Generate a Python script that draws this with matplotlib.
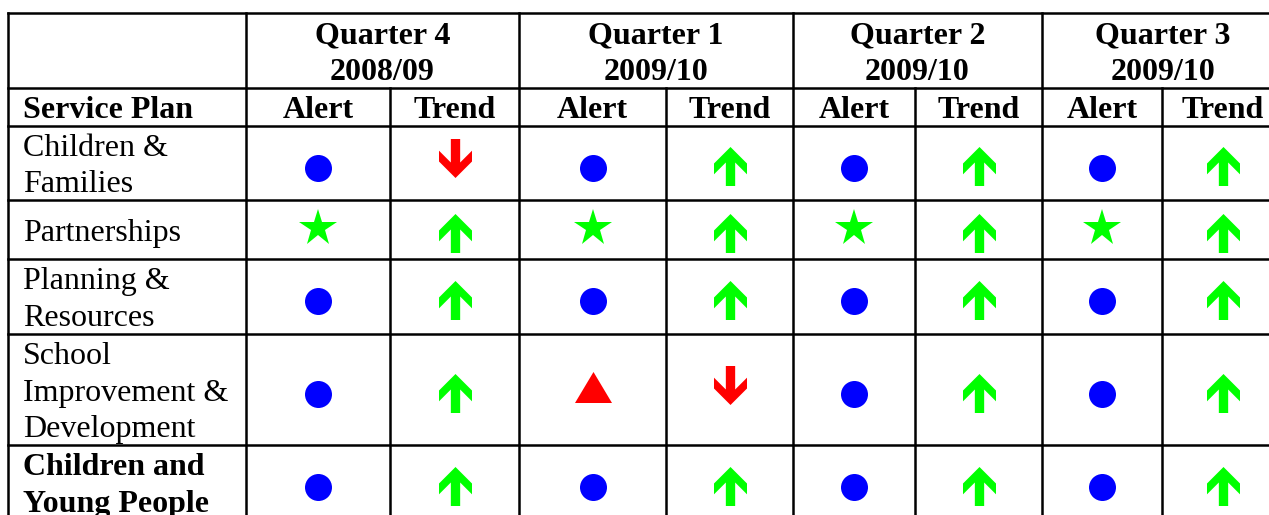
import matplotlib
matplotlib.use("Agg")
import matplotlib.pyplot as plt
from matplotlib.path import Path

# ---------------- data ----------------
service_plans = ["Children &\nFamilies", "Partnerships", "Planning &\nResources",
                 "School\nImprovement &\nDevelopment", "Children and\nYoung People"]
plan_bold = [False, False, False, False, True]
quarters = ["Quarter 4\n2008/09", "Quarter 1\n2009/10", "Quarter 2\n2009/10", "Quarter 3\n2009/10"]
sub_headers = ["Alert", "Trend"]
alert_q4 = ["circle", "star", "circle", "circle", "circle"]
alert_q1 = ["circle", "star", "circle", "triangle", "circle"]
alert_q2 = ["circle", "star", "circle", "circle", "circle"]
alert_q3 = ["circle", "star", "circle", "circle", "circle"]
trend_q4 = ["down", "up", "up", "up", "up"]
trend_q1 = ["up", "up", "up", "down", "up"]
trend_q2 = ["up", "up", "up", "up", "up"]
trend_q3 = ["up", "up", "up", "up", "up"]
alerts = [alert_q4, alert_q1, alert_q2, alert_q3]
trends = [trend_q4, trend_q1, trend_q2, trend_q3]

# ---------------- layout (pixels) ----------------
W, H = 1269, 515
col_edges = [8, 246, 390, 519, 666, 793, 915, 1042, 1162, 1284]
row_edges = [13, 88, 126, 200, 259, 334, 445, 520]

up_verts = [(0, 58.5), (49.5, 9), (49.5, -23.5), (14, 12), (14, -58.5),
            (-14, -58.5), (-14, 12), (-49.5, -23.5), (-49.5, 9), (0, 58.5)]
up_path = Path(up_verts, closed=True)
down_path = Path([(x, -y) for x, y in up_verts], closed=True)
tri_path = Path([(0, 15.5), (18.5, -15.5), (-18.5, -15.5), (0, 15.5)], closed=True)

px = 0.72  # points per pixel at dpi 100
styles = {
    "circle": dict(marker="o", color="#0000FF", ms=27 * px, dy=4.5),
    "star": dict(marker="*", color="#00FF00", ms=39 * px, dy=-2),
    "triangle": dict(marker=tri_path, color="#FF0000", ms=37 * px, dy=-3),
    "up": dict(marker=up_path, color="#00FF00", ms=39 * px, dy=3),
    "down": dict(marker=down_path, color="#FF0000", ms=39 * px, dy=-5),
}

plt.rcParams['font.family'] = ['Liberation Serif', 'DejaVu Serif']
FS = 23
LS = 1.35
TDY = 3.5

fig = plt.figure(figsize=(W / 100, H / 100), dpi=100)
ax = fig.add_axes([0, 0, 1, 1])
ax.set_xlim(0, W)
ax.set_ylim(H, 0)
ax.axis("off")

lw = 1.8
# horizontal lines
for y in row_edges:
    ax.plot([col_edges[0], col_edges[-1]], [y, y], color="black", lw=lw, solid_capstyle="projecting")
# vertical lines
for i, x in enumerate(col_edges):
    top = row_edges[0] if i in (0, 1, 3, 5, 7, 9) else row_edges[1]
    ax.plot([x, x], [top, row_edges[-1]], color="black", lw=lw, solid_capstyle="projecting")

# quarter headers
for q, label in enumerate(quarters):
    xc = (col_edges[1 + 2 * q] + col_edges[3 + 2 * q]) / 2
    yc = (row_edges[0] + row_edges[1]) / 2 + TDY
    ax.text(xc, yc, label, ha="center", va="center", fontsize=FS, fontweight="bold",
            linespacing=LS, multialignment="center")

# sub headers
ysub = (row_edges[1] + row_edges[2]) / 2 + TDY
ax.text(23, ysub, "Service Plan", ha="left", va="center", fontsize=FS, fontweight="bold")
for c in range(8):
    xc = (col_edges[1 + c] + col_edges[2 + c]) / 2
    ax.text(xc, ysub, sub_headers[c % 2], ha="center", va="center", fontsize=FS, fontweight="bold")

# rows
for r, plan in enumerate(service_plans):
    yc = (row_edges[2 + r] + row_edges[3 + r]) / 2
    ax.text(23, yc + TDY, plan, ha="left", va="center", fontsize=FS,
            fontweight="bold" if plan_bold[r] else "normal", linespacing=LS)
    for q in range(4):
        for k, sym in enumerate((alerts[q][r], trends[q][r])):
            st = styles[sym]
            xc = (col_edges[1 + 2 * q + k] + col_edges[2 + 2 * q + k]) / 2
            ax.plot([xc], [yc + st["dy"]], linestyle="none", marker=st["marker"],
                    markersize=st["ms"], markerfacecolor=st["color"],
                    markeredgewidth=0)

fig.savefig("out.png", dpi=100)
